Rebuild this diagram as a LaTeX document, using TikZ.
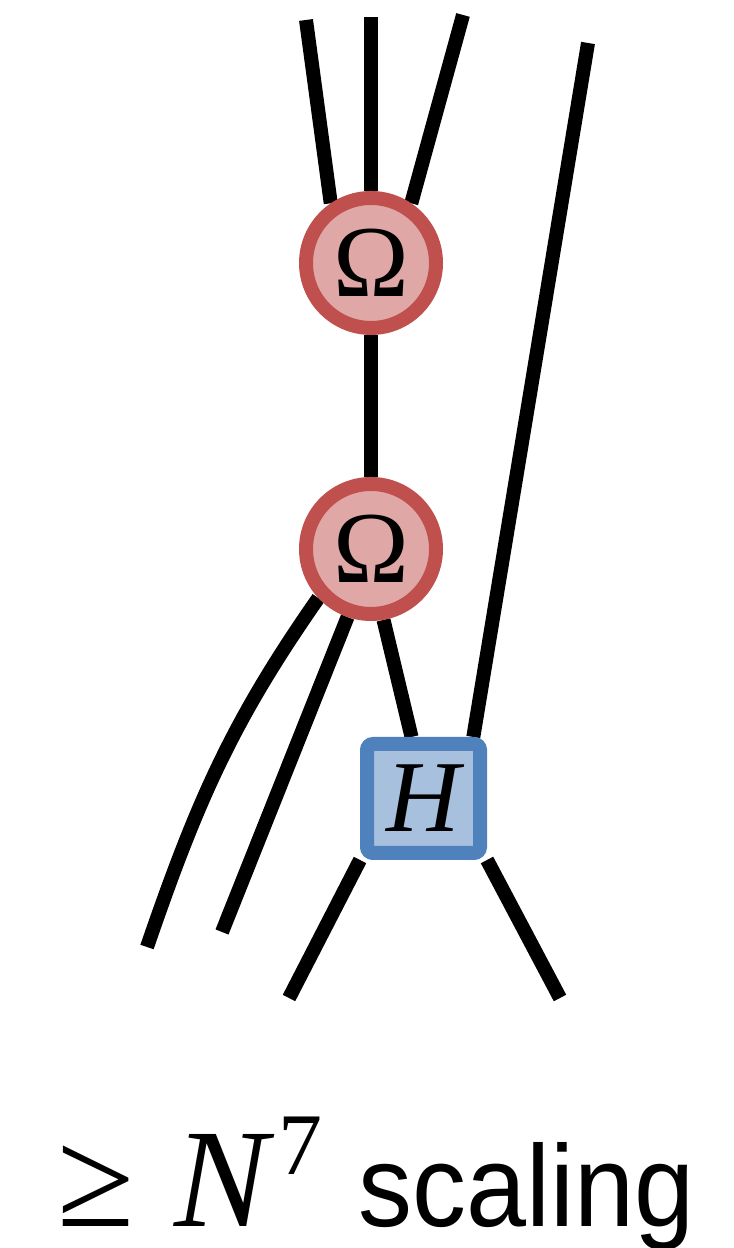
\documentclass[tikz,border=0pt]{standalone}
\usepackage{fontspec}
\setmainfont{Liberation Serif}
\setsansfont{Liberation Sans}
\usepackage{tikz}
\usetikzlibrary{backgrounds}

\definecolor{ored}{HTML}{C0504D}
\definecolor{oblue}{HTML}{4F81BD}

\tikzset{
  omega/.style={circle, draw=ored, fill=ored!50!white, line width=0.14cm,
                minimum size=1.30cm, inner sep=0pt,
                font=\fontsize{29}{29}\selectfont},
  hbox/.style={rectangle, rounded corners=0.06cm, draw=oblue,
               fill=oblue!50!white, line width=0.14cm,
               minimum width=1.13cm, minimum height=1.09cm, inner sep=0pt,
               font=\fontsize{29}{29}\selectfont\itshape},
  leg/.style={line width=0.14cm, black}
}

\begin{document}
\begin{tikzpicture}
\useasboundingbox (0,0) rectangle (7.34,12.48);

% tensors
\node[omega] (om1) at (3.71,9.85) {Ω};
\node[omega] (om2) at (3.71,6.99) {Ω};
\node[hbox]  (hb)  at (4.235,4.495) {H};

% open leg ends
\coordinate (t1) at (3.06,12.28);
\coordinate (t2) at (3.71,12.31);
\coordinate (t3) at (4.63,12.33);
\coordinate (t4) at (5.88,12.05);
\coordinate (b1) at (1.47,3.01);
\coordinate (b2) at (2.22,3.16);
\coordinate (b3) at (2.89,2.50);
\coordinate (b4) at (5.60,2.50);

\begin{pgfonlayer}{background}
\draw[leg] (om1.124) -- (t1);
\draw[leg] (om1.north) -- (t2);
\draw[leg] (om1.56) -- (t3);
\draw[leg] (om1.south) -- (om2.north);
\draw[leg] (om2.223) to[out=235,in=71] (b1);
\draw[leg] (om2.251) -- (b2);
\draw[leg] (om2.280) -- (hb.101);
\draw[leg] (hb.51) -- (t4);
\draw[leg] (hb.south west) -- (b3);
\draw[leg] (hb.south east) -- (b4);
\end{pgfonlayer}

% cost label
\node[anchor=base west, inner sep=0pt, font=\fontsize{40}{40}\selectfont]
  (geq) at (0.57,0.21) {≥};
\node[anchor=base west, inner sep=0.1cm, font=\fontsize{40}{40}\selectfont\itshape]
  (nn) at (1.64,0.21) {N};
\node[anchor=base west, inner sep=0pt, font=\fontsize{25}{25}\selectfont]
  (pw) at (2.78,0.73) {7};
\node[anchor=base west, inner sep=0pt, font=\sffamily\fontsize{33}{33}\selectfont]
  (word) at (3.58,0.21) {\scalebox{0.93}[1]{scaling}};
\end{tikzpicture}
\end{document}
